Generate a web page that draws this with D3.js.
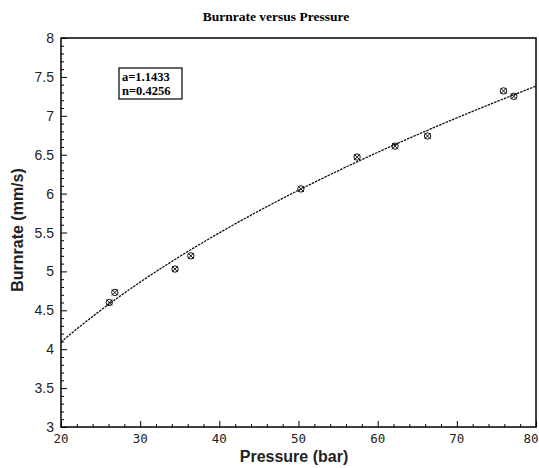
<!DOCTYPE html>
<html>
<head>
<meta charset="utf-8">
<script src="https://cdn.jsdelivr.net/npm/d3@7"></script>
<style>
  html, body { margin: 0; padding: 0; background: #fff; }
  svg { display: block; }
</style>
</head>
<body>
<svg id="chart" width="539" height="468"></svg>
<script>
// Measured burn rate vs chamber pressure
const pressure = [26.1, 26.8, 34.4, 36.4, 50.3, 57.4, 62.2, 66.3, 75.9, 77.2];
const burnrate = [4.60, 4.73, 5.03, 5.20, 6.06, 6.47, 6.61, 6.74, 7.32, 7.25];

// Power-law fit r = a * P^n
const fitA = 1.1433;
const fitN = 0.4256;

const xTicks = [20, 30, 40, 50, 60, 70, 80];
const yTicks = [3, 3.5, 4, 4.5, 5, 5.5, 6, 6.5, 7, 7.5, 8];

const svg = d3.select("#chart");
const m = { left: 61, right: 536, top: 38, bottom: 427 };

const x = d3.scaleLinear().domain([20, 80]).range([m.left, m.right]);
const y = d3.scaleLinear().domain([3, 8]).range([m.bottom, m.top]);

// Title
svg.append("text")
  .attr("x", 276).attr("y", 21)
  .attr("text-anchor", "middle")
  .attr("font-family", "Liberation Serif, serif")
  .attr("font-weight", "bold")
  .attr("font-size", 13.5)
  .text("Burnrate versus Pressure");

// Left axis: ticks inward, minor every 0.1
const yAxis = d3.axisRight(y)
  .tickValues(d3.range(30, 81, 1).map(v => v / 10))
  .tickSize(0)
  .tickFormat("");
const gy = svg.append("g").attr("transform", `translate(${m.left},0)`).call(yAxis);
gy.select(".domain").remove();
gy.selectAll(".tick line")
  .attr("x2", d => (Math.round(d * 10) % 5 === 0 ? 6 : 3))
  .attr("stroke", "#000").attr("stroke-width", 1);

// Bottom axis: ticks inward, minor every 2
const xAxis = d3.axisTop(x)
  .tickValues(d3.range(20, 81, 2))
  .tickSize(0)
  .tickFormat("");
const gx = svg.append("g").attr("transform", `translate(0,${m.bottom})`).call(xAxis);
gx.select(".domain").remove();
gx.selectAll(".tick line")
  .attr("y2", d => (d % 10 === 0 ? -6 : -3))
  .attr("stroke", "#000").attr("stroke-width", 1);

// Tick labels
svg.append("g").selectAll("text").data(yTicks).join("text")
  .attr("x", m.left - 7)
  .attr("y", d => y(d) + 5)
  .attr("text-anchor", "end")
  .attr("font-family", "Liberation Sans, Arial, sans-serif")
  .attr("font-size", 14)
  .attr("fill", "#222")
  .text(d => d);

svg.append("g").selectAll("text").data(xTicks).join("text")
  .attr("x", d => Math.min(x(d), 531))
  .attr("y", m.bottom + 16)
  .attr("text-anchor", "middle")
  .attr("font-family", "DejaVu Sans Mono, monospace")
  .attr("font-size", 12.5)
  .attr("fill", "#222")
  .text(d => d);

// Frame
svg.append("rect")
  .attr("x", m.left).attr("y", m.top)
  .attr("width", m.right - m.left).attr("height", m.bottom - m.top)
  .attr("fill", "none").attr("stroke", "#000").attr("stroke-width", 1.5);

// Axis titles
svg.append("text")
  .attr("x", 294).attr("y", 462)
  .attr("text-anchor", "middle")
  .attr("font-family", "Liberation Sans, Arial, sans-serif")
  .attr("font-weight", "bold")
  .attr("font-size", 16)
  .attr("fill", "#222")
  .text("Pressure (bar)");

svg.append("text")
  .attr("transform", "translate(23,230) rotate(-90)")
  .attr("text-anchor", "middle")
  .attr("font-family", "Liberation Sans, Arial, sans-serif")
  .attr("font-weight", "bold")
  .attr("font-size", 16)
  .attr("fill", "#222")
  .text("Burnrate (mm/s)");

// Fitted curve
const fitP = d3.range(20, 80.01, 0.5);
const line = d3.line().x(d => x(d)).y(d => y(fitA * Math.pow(d, fitN)));
svg.append("path")
  .datum(fitP)
  .attr("d", line)
  .attr("fill", "none")
  .attr("stroke", "#111")
  .attr("stroke-width", 1.3)
  .attr("stroke-dasharray", "2.5,1");

// Markers: circle with a cross
const pts = pressure.map((p, i) => [p, burnrate[i]]);
const mk = svg.append("g").selectAll("g").data(pts).join("g")
  .attr("transform", d => `translate(${x(d[0])},${y(d[1])})`);
mk.append("circle").attr("r", 3.2).attr("fill", "none").attr("stroke", "#111").attr("stroke-width", 1);
mk.append("path").attr("d", "M-3,-3L3,3M-3,3L3,-3").attr("stroke", "#111").attr("stroke-width", 1);

// Fit parameter box
svg.append("rect")
  .attr("x", 119).attr("y", 68).attr("width", 63).attr("height", 31)
  .attr("fill", "#fff").attr("stroke", "#000").attr("stroke-width", 1.2);
svg.append("text")
  .attr("x", 122).attr("y", 81)
  .attr("font-family", "Liberation Serif, serif")
  .attr("font-weight", "bold")
  .attr("font-size", 12.5)
  .text("a=" + fitA.toFixed(4));
svg.append("text")
  .attr("x", 122).attr("y", 95)
  .attr("font-family", "Liberation Serif, serif")
  .attr("font-weight", "bold")
  .attr("font-size", 12.5)
  .text("n=" + fitN.toFixed(4));
</script>
</body>
</html>
